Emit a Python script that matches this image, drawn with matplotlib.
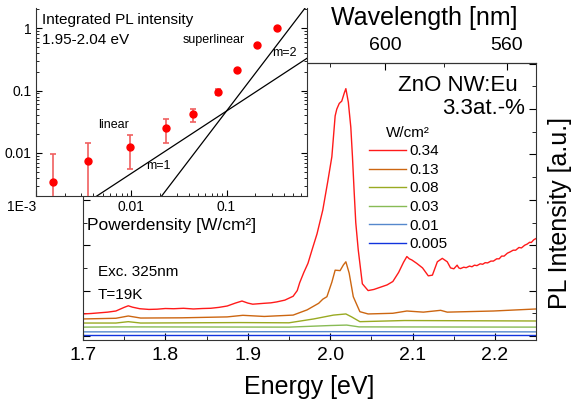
import numpy as np
import matplotlib.pyplot as plt
from matplotlib.ticker import MultipleLocator, FixedLocator, FixedFormatter, NullFormatter

plt.rcParams['font.family'] = ['Liberation Sans', 'DejaVu Sans']

# PL spectra, energy [eV] and intensity [a.u.], offset as measured
E_034 = [1.700, 1.710, 1.720, 1.730, 1.740, 1.750, 1.755, 1.760, 1.769, 1.780, 1.790,
         1.800, 1.810, 1.822, 1.834, 1.845, 1.855, 1.865, 1.875, 1.885, 1.893, 1.900,
         1.906, 1.913, 1.920, 1.928, 1.935, 1.945, 1.955, 1.960, 1.963, 1.968, 1.973,
         1.978, 1.984, 1.991, 1.997, 2.002, 2.006, 2.008, 2.011, 2.014, 2.017, 2.019,
         2.022, 2.025, 2.027, 2.029, 2.031, 2.034, 2.039, 2.046, 2.053, 2.061, 2.069,
         2.076, 2.083, 2.089, 2.093, 2.096, 2.099, 2.105, 2.112, 2.119, 2.124, 2.130,
         2.136, 2.142, 2.146, 2.150, 2.154, 2.156, 2.158, 2.162, 2.165, 2.169, 2.172,
         2.175, 2.178, 2.182, 2.185, 2.188, 2.191, 2.195, 2.198, 2.202, 2.205, 2.208,
         2.211, 2.215, 2.218, 2.222, 2.225, 2.229, 2.232, 2.236, 2.239, 2.242, 2.244,
         2.247, 2.250]
I_034 = [0.97, 0.99, 1.02, 1.05, 1.10, 1.26, 1.33, 1.27, 1.20, 1.17, 1.18,
         1.21, 1.20, 1.22, 1.19, 1.21, 1.22, 1.26, 1.32, 1.45, 1.54, 1.45,
         1.40, 1.42, 1.44, 1.46, 1.50, 1.58, 1.75, 2.00, 2.35, 2.80, 3.20,
         3.80, 4.50, 5.55, 6.80, 7.90, 9.70, 10.0, 10.25, 10.35, 10.7, 10.9,
         10.3, 9.2, 7.9, 6.4, 5.0, 3.8, 2.3, 2.0, 2.05, 2.15, 2.25,
         2.40, 2.80, 3.25, 3.50, 3.40, 3.35, 3.20, 3.00, 2.65, 2.68, 3.27,
         3.42, 3.27, 3.00, 2.96, 3.12, 3.00, 2.97, 3.03, 3.01, 3.08, 3.05,
         3.12, 3.10, 3.18, 3.16, 3.23, 3.22, 3.30, 3.30, 3.40, 3.40, 3.52,
         3.52, 3.65, 3.70, 3.78, 3.78, 3.90, 3.88, 4.00, 4.05, 4.13, 4.12,
         4.24, 4.30]

E_013 = [1.700, 1.740, 1.755, 1.770, 1.820, 1.875, 1.894, 1.920, 1.955, 1.972,
         1.986, 1.991, 1.996, 2.002, 2.006, 2.012, 2.016, 2.019, 2.023, 2.028,
         2.036, 2.046, 2.076, 2.093, 2.113, 2.134, 2.142, 2.198, 2.250]
I_013 = [0.75, 0.78, 0.88, 0.79, 0.80, 0.84, 0.91, 0.86, 0.92, 1.15,
         1.44, 1.62, 1.73, 2.37, 2.90, 2.88, 3.13, 3.27, 2.77, 1.73,
         1.07, 0.97, 1.00, 1.10, 1.05, 1.13, 1.05, 1.10, 1.19]

E_008 = [1.700, 1.740, 1.755, 1.770, 1.890, 1.950, 1.980, 2.004, 2.019, 2.026,
         2.036, 2.090, 2.250]
I_008 = [0.57, 0.57, 0.63, 0.57, 0.59, 0.58, 0.75, 0.92, 0.97, 0.84,
         0.63, 0.68, 0.66]

E_003 = [1.700, 1.750, 1.950, 2.000, 2.020, 2.035, 2.250]
I_003 = [0.39, 0.40, 0.39, 0.46, 0.48, 0.40, 0.39]

E_001 = [1.700, 2.000, 2.250]
I_001 = [0.18, 0.19, 0.18]

E_0005 = [1.700, 2.000, 2.250]
I_0005 = [0.04, 0.04, 0.04]

powers = ['0.34', '0.13', '0.08', '0.03', '0.01', '0.005']
colors = ['#ff1a1a', '#cc6611', '#99aa22', '#88bb55', '#5588cc', '#1133dd']

# integrated PL intensity vs. power density
P_int = [0.0015, 0.0035, 0.0098, 0.023, 0.044, 0.082, 0.13, 0.21, 0.34]
I_int = [0.0034, 0.0075, 0.0125, 0.025, 0.042, 0.094, 0.21, 0.53, 1.0]
I_lo = [0.0005, 0.0005, 0.0056, 0.0145, 0.031, 0.086, 0.20, 0.50, 0.96]
I_hi = [0.0098, 0.0145, 0.0194, 0.035, 0.051, 0.104, 0.22, 0.56, 1.04]

# power law guides y = A * x^m
m_lin, A_lin = 1, 0.47
m_sup, A_sup = 2, 4.7

# top axis ticks (nm); the labels further left sit behind the inset
wl_major = [560, 600, 640, 680, 720]
wl_labels = ['560', '600', '', '', '']
wl_minor = [540, 580, 620, 660, 700]

HC = 1239.84  # eV*nm

fig = plt.figure(figsize=(5.76, 4.01), dpi=100)
ax = fig.add_axes([0.144, 0.152, 0.787, 0.692])

spectra = [(E_034, I_034), (E_013, I_013), (E_008, I_008),
           (E_003, I_003), (E_001, I_001), (E_0005, I_0005)]
for (E, I), p, c in zip(spectra, powers, colors):
    ax.plot(E, I, color=c, lw=1.0, label=p)

ax.set_xlim(1.7, 2.25)
ax.set_ylim(-0.18, 12.05)
ax.xaxis.set_major_locator(MultipleLocator(0.1))
ax.xaxis.set_minor_locator(MultipleLocator(0.05))
ax.xaxis.set_major_formatter(plt.FormatStrFormatter('%.1f'))
ax.yaxis.set_major_locator(MultipleLocator(2))
ax.yaxis.set_minor_locator(MultipleLocator(1))
ax.yaxis.set_major_formatter(NullFormatter())
ax.tick_params(which='both', direction='in', left=True, right=True, top=False,
               labelsize=14, pad=5)
ax.tick_params(which='major', length=5)
ax.tick_params(which='minor', length=3)
for s in ax.spines.values():
    s.set_color('#333333')
ax.set_xlabel('Energy [eV]', fontsize=18, labelpad=8)
ax.text(1.053, 0.457, 'PL Intensity [a.u.]', transform=ax.transAxes, fontsize=18,
        rotation=90, ha='center', va='center')

# wavelength scale on top
sec = ax.secondary_xaxis('top', functions=(lambda e: HC / e, lambda l: HC / l))
sec.xaxis.set_major_locator(FixedLocator(wl_major))
sec.xaxis.set_major_formatter(FixedFormatter(wl_labels))
sec.xaxis.set_minor_locator(FixedLocator(wl_minor))
sec.tick_params(which='both', direction='in', labelsize=14, pad=6)
sec.tick_params(which='major', length=5)
sec.tick_params(which='minor', length=3)
ax.text(0.753, 1.162, 'Wavelength [nm]', transform=ax.transAxes, fontsize=18,
        ha='center', va='center')

ax.text(0.96, 0.919, 'ZnO NW:Eu', transform=ax.transAxes, fontsize=16,
        ha='right', va='center')
ax.text(0.976, 0.836, '3.3at.-%', transform=ax.transAxes, fontsize=16,
        ha='right', va='center')
ax.text(0.033, 0.245, 'Exc. 325nm', transform=ax.transAxes, fontsize=11,
        va='center')
ax.text(0.033, 0.162, 'T=19K', transform=ax.transAxes, fontsize=11,
        va='center')

leg = ax.legend(title='W/cm²', loc='upper left', bbox_to_anchor=(0.615, 0.80),
                frameon=False, fontsize=11, title_fontsize=11, handlelength=2.4,
                handletextpad=0.2, labelspacing=0.3, borderpad=0)

# inset: integrated intensity
ins = fig.add_axes([0.0625, 0.511, 0.4705, 0.469])
ins.set_facecolor('white')
ins.set_xscale('log')
ins.set_yscale('log')
ins.set_xlim(1e-3, 0.7)
ins.set_ylim(0.00204, 2.1)

yerr = [np.array(I_int) - np.array(I_lo), np.array(I_hi) - np.array(I_int)]
ins.errorbar(P_int, I_int, yerr=yerr, fmt='o', color='red', ms=5,
             ecolor='#f06060', elinewidth=1.2, capsize=2.5, capthick=1.2,
             zorder=3)

xg = np.logspace(-3.5, 0, 50)
ins.plot(xg, A_lin * xg ** m_lin, color='black', lw=0.9)
ins.plot(xg, A_sup * xg ** m_sup, color='black', lw=0.9)

ins.spines['top'].set_visible(False)
for s in ins.spines.values():
    s.set_color('#333333')
ins.set_xticks([1e-3, 0.01, 0.1], ['1E-3', '0.01', '0.1'])
ins.set_yticks([0.01, 0.1, 1], ['0.01', '0.1', '1'])
ins.xaxis.set_minor_formatter(NullFormatter())
ins.yaxis.set_minor_formatter(NullFormatter())
ins.tick_params(which='both', direction='in', right=True, top=False,
                labelsize=10, pad=3)
ins.tick_params(which='major', length=4)
ins.tick_params(which='minor', length=2)
ins.get_xticklabels()[0].set_ha('right')
ins.set_xlabel('Powerdensity [W/cm²]', fontsize=12.5, labelpad=3)

ins.text(0.022, 0.935, 'Integrated PL intensity', transform=ins.transAxes,
         fontsize=11, va='center')
ins.text(0.022, 0.83, '1.95-2.04 eV', transform=ins.transAxes,
         fontsize=11, va='center')
ins.text(0.542, 0.83, 'superlinear', transform=ins.transAxes, fontsize=9, va='center')
ins.text(0.871, 0.76, 'm=2', transform=ins.transAxes, fontsize=9, va='center')
ins.text(0.229, 0.378, 'linear', transform=ins.transAxes, fontsize=9, va='center')
ins.text(0.406, 0.16, 'm=1', transform=ins.transAxes, fontsize=9, va='center')

fig.savefig('out.png', dpi=100)
